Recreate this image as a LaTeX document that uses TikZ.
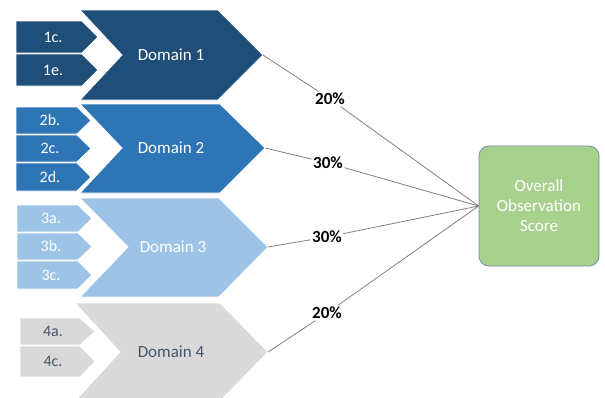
\documentclass[tikz,border=0pt]{standalone}
\usepackage{fontspec}
\setmainfont{Carlito}
\definecolor{dA}{HTML}{1F4E79}
\definecolor{dB}{HTML}{2E75B6}
\definecolor{dC}{HTML}{9DC3E6}
\definecolor{dD}{HTML}{D9D9D9}
\definecolor{dtext}{HTML}{44546A}
\definecolor{gfill}{HTML}{A9D18E}
\definecolor{gborder}{HTML}{6F8FAF}
\begin{document}
\begin{tikzpicture}[x=1pt,y=-1pt,
  shp/.style={draw=white,line width=0.8pt},
  domtxt/.style={font=\fontsize{17}{20}\selectfont,text=white},
  smtxt/.style={font=\fontsize{16}{19}\selectfont,text=white},
  pct/.style={font=\bfseries\fontsize{17}{20}\selectfont,fill=white,inner sep=1.5pt},
  conn/.style={draw=black!50,line width=0.8pt}]
\useasboundingbox (0,0) rectangle (605,397);
\begin{scope}
\clip (0,0) rectangle (605,397);
% Domain chevrons
\fill[dA,shp] (80,10) -- (218,10) -- (263,55) -- (218,100) -- (80,100) -- (122,55) -- cycle;
\fill[dB,shp] (80,104) -- (220,104) -- (265,148) -- (220,193) -- (80,193) -- (122,148) -- cycle;
\fill[dC,shp] (80,198) -- (219,198) -- (268,247) -- (219,297) -- (80,297) -- (128,247) -- cycle;
\fill[dD,shp] (75,303) -- (220,303) -- (268,352) -- (220,401) -- (75,401) -- (120,352) -- cycle;
% small arrows
\fill[dA,shp] (16,21) -- (82,21) -- (98,37) -- (82,53) -- (16,53) -- cycle;
\fill[dA,shp] (16,54) -- (82,54) -- (98,70) -- (82,86) -- (16,86) -- cycle;
\fill[dB,shp] (16,107) -- (77,107) -- (91,120.5) -- (77,134) -- (16,134) -- cycle;
\fill[dB,shp] (16,135) -- (77,135) -- (91,148.5) -- (77,162) -- (16,162) -- cycle;
\fill[dB,shp] (16,163) -- (77,163) -- (91,177) -- (77,191) -- (16,191) -- cycle;
\fill[dC,shp] (17,205) -- (78,205) -- (92,218.5) -- (78,232) -- (17,232) -- cycle;
\fill[dC,shp] (17,233) -- (78,233) -- (92,246.5) -- (78,260) -- (17,260) -- cycle;
\fill[dC,shp] (17,261) -- (78,261) -- (92,275) -- (78,289) -- (17,289) -- cycle;
\fill[dD,shp] (20,318) -- (80,318) -- (95,331.5) -- (80,345) -- (20,345) -- cycle;
\fill[dD,shp] (20,346) -- (80,346) -- (95,361.5) -- (80,377) -- (20,377) -- cycle;
\end{scope}
% texts
\node[domtxt] (n1) at (171,55) {Domain 1};
\node[domtxt] (n2) at (171,148) {Domain 2};
\node[domtxt] (n3) at (173,247) {Domain 3};
\node[domtxt,text=dtext] (n4) at (171,352) {Domain 4};
\node[smtxt] (s1c) at (53,37) {1c.};
\node[smtxt] (s1e) at (53,70) {1e.};
\node[smtxt] (s2b) at (50,120.5) {2b.};
\node[smtxt] (s2c) at (50,148.5) {2c.};
\node[smtxt] (s2d) at (50,177) {2d.};
\node[smtxt] (s3a) at (51,218.5) {3a.};
\node[smtxt] (s3b) at (51,246.5) {3b.};
\node[smtxt] (s3c) at (51,275) {3c.};
\node[smtxt,text=dtext] (s4a) at (53,331.5) {4a.};
\node[smtxt,text=dtext] (s4c) at (53,361.5) {4c.};
% tips
\coordinate (t1) at (263,55);
\coordinate (t2) at (265,148);
\coordinate (t3) at (268,247);
\coordinate (t4) at (268,352);
% score box
\node[draw=gborder,fill=gfill,rounded corners=10pt,line width=0.8pt,
  minimum width=120pt,minimum height=120pt,align=center,text=white,
  font=\fontsize{17}{20}\selectfont] (score) at (539,206) {Overall\\Observation\\Score};
% labels
\node[pct] (p1) at (330,99) {20\%};
\node[pct] (p2) at (328,163) {30\%};
\node[pct] (p3) at (327,237) {30\%};
\node[pct] (p4) at (327,313) {20\%};
\draw[conn] (t1) -- (p1) -- (score.west);
\draw[conn] (t2) -- (p2) -- (score.west);
\draw[conn] (t3) -- (p3) -- (score.west);
\draw[conn] (t4) -- (p4) -- (score.west);
\end{tikzpicture}
\end{document}
